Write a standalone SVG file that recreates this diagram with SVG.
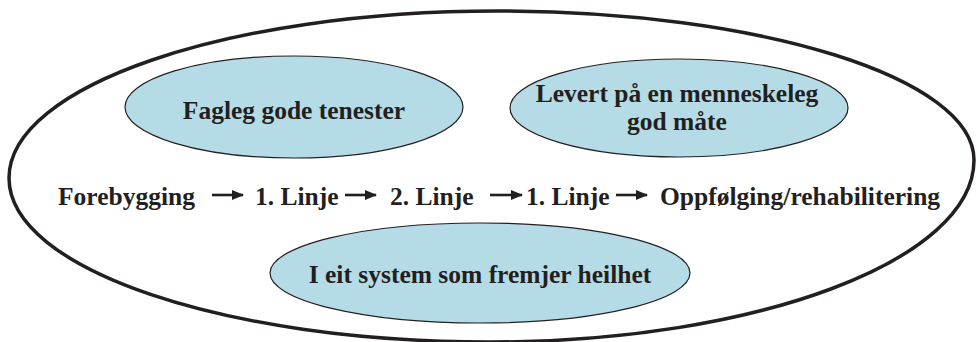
<svg xmlns="http://www.w3.org/2000/svg" width="977" height="342" viewBox="0 0 977 342">
<style>
text{font-family:'Liberation Serif','Times New Roman',Times,serif;font-weight:700;font-size:25.5px;fill:#231f20}
.bub{fill:#b5dce6;stroke:#231f20;stroke-width:1.2}
.con{stroke:#231f20;stroke-width:2.6;fill:none;marker-end:url(#ah)}
</style>
<defs>
<marker id="ah" markerUnits="userSpaceOnUse" markerWidth="12" markerHeight="10" refX="11" refY="5" orient="auto">
<path d="M0,0 L12,5 L0,10 Z" fill="#231f20"/>
</marker>
</defs>
<rect width="977" height="342" fill="#ffffff"/>
<g id="outer">
<path d="M497,11 C760,11 974,78 974,160 C974,260 757,342 490,342 C224,342 9,269 9,178 C9,86 228,11 497,11 Z" fill="none" stroke="#231f20" stroke-width="3.5"/>
</g>
<g font-family="Liberation Serif, serif">
<g id="node-fagleg">
<ellipse class="bub" cx="294" cy="107" rx="169" ry="51"/>
<text x="294" y="119" text-anchor="middle">Fagleg gode tenester</text>
</g>
<g id="node-levert">
<ellipse class="bub" cx="679" cy="108" rx="169" ry="49"/>
<text x="677" y="102" text-anchor="middle">Levert på en menneskeleg</text>
<text x="677" y="130" text-anchor="middle">god måte</text>
</g>
<g id="node-system">
<ellipse class="bub" cx="480" cy="273" rx="210" ry="50"/>
<text x="480" y="283" text-anchor="middle">I eit system som fremjer heilhet</text>
</g>
<g id="node-forebygging"><text x="58" y="205">Forebygging</text></g>
<g id="node-linje1"><text x="255" y="205">1. Linje</text></g>
<g id="node-linje2"><text x="390" y="205">2. Linje</text></g>
<g id="node-linje1b"><text x="526" y="205">1. Linje</text></g>
<g id="node-oppfolging"><text x="660" y="205">Oppfølging/rehabilitering</text></g>
</g>
<g id="connectors">
<line class="con" x1="212" y1="195" x2="243" y2="195"/>
<line class="con" x1="345" y1="195" x2="376" y2="195"/>
<line class="con" x1="490" y1="195" x2="522" y2="195"/>
<line class="con" x1="616" y1="195" x2="647" y2="195"/>
</g>
</svg>
